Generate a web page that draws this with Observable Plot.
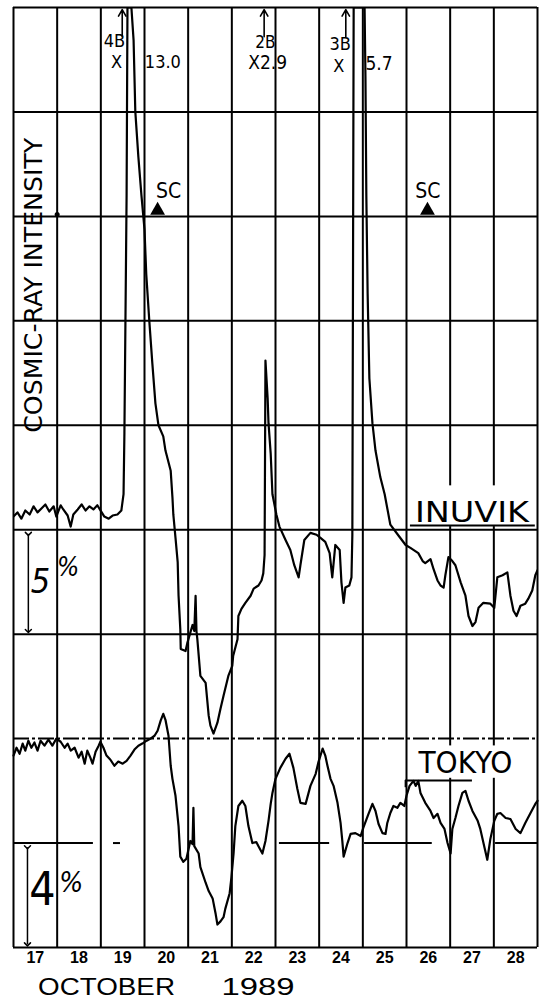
<!DOCTYPE html>
<html><head><meta charset="utf-8">
<script src="https://cdn.jsdelivr.net/npm/d3@7"></script>
<script src="https://cdn.jsdelivr.net/npm/@observablehq/plot@0.6"></script>
<style>body{margin:0;background:#fff}svg{display:block}</style>
</head><body><div id="chart"></div>
<script>
// Day columns (October 1989); each column spans one day
const days = [17, 18, 19, 20, 21, 22, 23, 24, 25, 26, 27, 28];
const dayLines = [17, 18, 19, 20, 21, 22, 23, 24, 25, 26, 27, 28, 29];
// Horizontal grid: one interval = 5 % for Inuvik, 4 % for Tokyo
const gridSolid = [0, 3, 4, 5, 6, 7, 8, 9];
const gridDashed = [2];
const tokyoRefSegments = [[17.0, 18.83], [19.29, 19.45], [23.09, 24.24], [25.04, 26.59], [28.04, 29.0]];

// Inuvik neutron monitor: [day, % relative to reference line]
const inuvik = [
[17.00,0.63],[17.09,0.83],[17.18,0.53],[17.27,0.92],[17.37,0.73],[17.46,1.12],[17.55,0.83],[17.64,1.02],
[17.73,1.21],[17.82,0.87],[17.92,1.12],[17.98,0.63],[18.08,1.17],[18.14,0.97],[18.24,0.68],[18.31,0.15],
[18.37,0.73],[18.47,0.97],[18.56,1.21],[18.65,0.92],[18.74,1.12],[18.83,0.97],[18.92,1.17],[19.02,0.83],
[19.08,0.63],[19.18,0.53],[19.27,0.68],[19.38,0.73],[19.47,0.92],[19.52,1.70],[19.54,4.63],[19.59,16.01],
[19.61,25.0],[19.70,25.0],[19.75,23.44],[19.79,20.0],[19.86,17.84],[19.93,16.01],[20.00,14.38],[20.04,12.24],
[20.11,10.0],[20.18,7.95],[20.25,6.05],[20.32,5.0],[20.43,4.47],[20.48,3.79],[20.60,2.82],[20.64,1.55],
[20.66,0.73],[20.71,-0.39],[20.76,-1.55],[20.78,-3.16],[20.82,-4.76],[20.83,-5.71],[20.94,-5.81],[20.98,-5.43],
[21.10,-4.56],[21.14,-4.85],[21.17,-3.16],[21.19,-4.85],[21.21,-5.24],[21.28,-7.0],[21.40,-7.33],[21.47,-8.90],
[21.51,-9.38],[21.58,-9.76],[21.67,-9.24],[21.74,-8.57],[21.81,-7.95],[21.92,-7.0],[22.01,-6.52],[22.03,-6.05],
[22.13,-5.24],[22.15,-4.13],[22.22,-3.79],[22.31,-3.50],[22.43,-3.16],[22.50,-2.82],[22.61,-2.67],[22.68,-2.43],
[22.72,-2.09],[22.75,-1.21],[22.77,8.10],[22.82,6.29],[22.84,5.10],[22.89,3.64],[22.93,1.70],[23.02,0.73],
[23.09,0.15],[23.23,-0.49],[23.34,-0.97],[23.43,-1.70],[23.53,-2.28],[23.57,-1.70],[23.66,-0.49],[23.80,-0.15],
[23.94,-0.24],[24.03,-0.39],[24.14,-0.58],[24.24,-1.12],[24.30,-2.28],[24.37,-0.73],[24.47,-0.97],[24.51,-2.52],
[24.56,-3.50],[24.60,-2.77],[24.69,-2.67],[24.74,-2.28],[24.76,-0.24],[24.79,25.0],[25.04,25.0],[25.06,21.70],
[25.08,16.01],[25.11,11.29],[25.15,7.24],[25.22,5.10],[25.29,3.79],[25.40,2.52],[25.50,1.70],[25.63,0.24],
[25.82,-0.29],[25.98,-0.73],[26.09,-0.87],[26.27,-1.12],[26.37,-1.50],[26.43,-1.60],[26.55,-1.41],[26.62,-1.89],
[26.71,-2.43],[26.78,-2.67],[26.85,-2.77],[26.89,-2.18],[26.96,-1.31],[27.05,-1.50],[27.12,-1.70],[27.24,-2.52],
[27.35,-3.16],[27.42,-4.13],[27.51,-4.61],[27.58,-4.42],[27.65,-3.74],[27.76,-3.50],[27.92,-3.54],[28.01,-3.74],
[28.08,-2.28],[28.20,-2.18],[28.31,-2.04],[28.38,-3.16],[28.45,-3.88],[28.52,-4.13],[28.61,-3.64],[28.72,-3.54],
[28.79,-3.30],[28.88,-2.91],[28.95,-2.18],[29.00,-1.94]
];

// Tokyo neutron monitor: [day, % relative to reference line]
const tokyo = [
[17.00,3.35],[17.07,3.65],[17.14,3.42],[17.21,3.81],[17.27,3.54],[17.34,3.92],[17.41,3.65],[17.48,3.85],
[17.55,3.54],[17.62,3.92],[17.71,3.73],[17.80,3.96],[17.89,3.73],[17.98,4.00],[18.08,3.88],[18.17,3.65],
[18.24,3.81],[18.31,3.54],[18.40,3.65],[18.49,3.27],[18.56,3.50],[18.63,3.04],[18.69,3.54],[18.76,3.27],
[18.81,3.04],[18.88,3.50],[18.95,3.73],[18.99,3.88],[19.06,3.65],[19.13,3.35],[19.22,3.19],[19.31,2.96],
[19.40,3.12],[19.50,3.04],[19.59,3.15],[19.68,3.35],[19.77,3.58],[19.86,3.73],[19.95,3.81],[20.05,3.92],
[20.14,4.00],[20.23,4.11],[20.30,4.30],[20.37,4.69],[20.43,4.95],[20.48,4.72],[20.55,4.11],[20.60,2.96],
[20.64,2.46],[20.71,1.81],[20.78,0.65],[20.82,-0.52],[20.89,-0.72],[20.96,-0.60],[21.05,0.08],[21.10,-0.04],
[21.12,1.35],[21.14,-0.12],[21.24,-0.40],[21.28,-0.92],[21.40,-1.52],[21.47,-1.84],[21.56,-2.12],[21.63,-2.72],
[21.67,-3.12],[21.74,-3.00],[21.81,-2.84],[21.85,-2.52],[21.95,-1.92],[21.99,-1.32],[22.04,-0.40],[22.08,0.65],
[22.15,1.42],[22.24,1.62],[22.31,1.42],[22.38,0.65],[22.47,0.00],[22.56,0.04],[22.61,-0.12],[22.70,-0.40],
[22.77,0.08],[22.84,0.85],[22.89,1.50],[22.93,1.92],[23.00,2.46],[23.11,2.88],[23.23,3.23],[23.32,3.42],
[23.41,2.88],[23.50,2.08],[23.57,1.54],[23.69,1.50],[23.80,2.19],[23.92,2.65],[23.98,3.08],[24.08,3.62],
[24.14,3.35],[24.19,2.96],[24.26,2.46],[24.33,2.19],[24.42,1.54],[24.49,0.77],[24.53,0.08],[24.56,-0.52],
[24.65,0.00],[24.72,0.35],[24.83,0.38],[24.95,0.27],[25.01,0.58],[25.13,1.12],[25.22,1.50],[25.29,1.23],
[25.36,0.73],[25.45,0.38],[25.52,0.35],[25.56,0.77],[25.63,1.15],[25.70,1.42],[25.79,1.35],[25.86,1.54],
[25.95,1.42],[26.00,1.81],[26.07,2.19],[26.16,2.38],[26.21,2.19],[26.27,2.38],[26.32,1.92],[26.43,1.54],
[26.55,1.23],[26.62,0.96],[26.71,1.12],[26.78,0.77],[26.87,0.54],[26.94,0.00],[27.01,-0.40],[27.05,0.54],
[27.12,0.96],[27.19,1.42],[27.28,1.92],[27.35,2.00],[27.42,1.62],[27.51,1.23],[27.63,0.85],[27.69,0.54],
[27.79,-0.20],[27.85,-0.64],[27.92,0.15],[28.01,0.85],[28.08,1.12],[28.15,1.15],[28.27,0.96],[28.38,0.92],
[28.50,0.54],[28.61,0.38],[28.72,0.77],[28.84,1.15],[28.95,1.50],[29.00,1.62]
];

// Flare annotations (class, peak value) and sudden commencements
const flareNotes = [
  {text: "4B", day: 19.31, g: 8.68, size: 18},
  {text: "X", day: 19.36, g: 8.48, size: 18},
  {text: "13.0", day: 20.42, g: 8.48, size: 18},
  {text: "2B", day: 22.77, g: 8.66, size: 17},
  {text: "X2.9", day: 22.82, g: 8.47, size: 19},
  {text: "3B", day: 24.48, g: 8.65, size: 18},
  {text: "X", day: 24.45, g: 8.44, size: 18},
  {text: "5.7", day: 25.37, g: 8.46, size: 19}
];
const flareArrows = [{day: 19.49}, {day: 22.74}, {day: 24.61}];
const scNotes = [{text: "SC", day: 20.55, g: 7.24}, {text: "SC", day: 26.49, g: 7.24}];
const scDays = [20.30, 26.48];

const yIn = d => 4 + d[1] / 5;   // Inuvik: 5 % per grid interval
const yTo = d => 1 + d[1] / 4;   // Tokyo: 4 % per grid interval
const hand = "'Liberation Sans Narrow', 'DejaVu Sans Condensed', 'Liberation Sans', sans-serif";

const plot = Plot.plot({
  width: 544, height: 1006,
  marginLeft: 13, marginRight: 7, marginTop: 7, marginBottom: 59,
  x: {domain: [17, 29], axis: null},
  y: {domain: [0, 9], axis: null},
  style: {background: "white", fontFamily: "'Liberation Sans', Arial, sans-serif"},
  marks: [
    Plot.ruleX(dayLines, {stroke: "black", strokeWidth: 2}),
    Plot.ruleY(gridSolid, {stroke: "black", strokeWidth: 2}),
    Plot.ruleY(gridDashed, {stroke: "black", strokeWidth: 2, strokeDasharray: "16,3,3,3"}),
    Plot.ruleY(tokyoRefSegments, {y: () => 1, x1: d => d[0], x2: d => d[1], stroke: "black", strokeWidth: 2}),
    // label backgrounds (grid lines interrupted by lettering)
    Plot.rect([{x1: 26.14, x2: 28.93, y1: 4.03, y2: 4.42}], {x1: "x1", x2: "x2", y1: "y1", y2: "y2", fill: "white"}),
    Plot.rect([{x1: 26.16, x2: 28.55, y1: 1.62, y2: 1.93}], {x1: "x1", x2: "x2", y1: "y1", y2: "y2", fill: "white"}),
    // traces
    Plot.line(inuvik, {x: d => d[0], y: yIn, stroke: "black", strokeWidth: 2.2, strokeLinejoin: "round", clip: true}),
    Plot.line(tokyo, {x: d => d[0], y: yTo, stroke: "black", strokeWidth: 2.2, strokeLinejoin: "round"}),
    // station labels
    Plot.text(["INUVIK"], {x: () => 27.50, y: () => 4.16, fontSize: 29, fontFamily: hand}),
    Plot.ruleY([{y: 4.04, x1: 26.09, x2: 28.95}], {y: "y", x1: "x1", x2: "x2", stroke: "black", strokeWidth: 2}),
    Plot.text(["TOKYO"], {x: () => 27.35, y: () => 1.76, fontSize: 30, fontFamily: hand}),
    Plot.ruleY([{y: 1.60, x1: 25.98, x2: 27.51}], {y: "y", x1: "x1", x2: "x2", stroke: "black", strokeWidth: 2}),
    Plot.ruleX([{x: 25.98, y1: 1.53, y2: 1.60}], {x: "x", y1: "y1", y2: "y2", stroke: "black", strokeWidth: 2}),
    // axis title
    Plot.text(["COSMIC-RAY INTENSITY"], {x: () => 17.47, y: () => 6.34, rotate: -90, fontSize: 25, fontFamily: hand}),
    // scale bars
    Plot.link([{x: 17.34, y1: 3.96, y2: 3.03}], {x1: "x", x2: "x", y1: "y1", y2: "y2", stroke: "black", strokeWidth: 1.5, markerStart: "arrow", markerEnd: "arrow"}),
    Plot.text(["5"], {x: () => 17.62, y: () => 3.50, fontSize: 34, fontStyle: "italic", fontFamily: hand}),
    Plot.text(["%"], {x: () => 18.25, y: () => 3.64, fontSize: 26, fontStyle: "italic", fontFamily: hand}),
    Plot.link([{x: 17.32, y1: 0.96, y2: 0.03}], {x1: "x", x2: "x", y1: "y1", y2: "y2", stroke: "black", strokeWidth: 1.5, markerStart: "arrow", markerEnd: "arrow"}),
    Plot.text(["4"], {x: () => 17.66, y: () => 0.55, fontSize: 46, fontFamily: hand}),
    Plot.text(["%"], {x: () => 18.32, y: () => 0.62, fontSize: 28, fontStyle: "italic", fontFamily: hand}),
    // flare annotations
    Plot.arrow(flareArrows, {x1: "day", x2: "day", y1: () => 8.72, y2: () => 8.98, stroke: "black", strokeWidth: 1.6, headLength: 7}),
    Plot.text(flareNotes, {x: "day", y: "g", text: "text", fontSize: "size", fontFamily: hand}),
    Plot.text(scNotes, {x: "day", y: "g", text: "text", fontSize: 21, fontFamily: hand}),
    Plot.dot(scDays, {x: d => d, y: () => 7, dy: -6, symbol: "triangle", r: 5.5, fill: "black", stroke: "none"}),
    Plot.dot([18.0], {x: d => d, y: () => 7.0, dy: -2, r: 2.5, fill: "black", stroke: "none"}),
    // day labels and month
    Plot.text(days, {x: d => d + 0.5, frameAnchor: "bottom", dy: 15, fontSize: 16, fontWeight: "bold", text: d => String(d)}),
    Plot.text(["OCTOBER"], {x: () => 19.13, frameAnchor: "bottom", dy: 47, fontSize: 23}),
    Plot.text(["1989"], {x: () => 22.60, frameAnchor: "bottom", dy: 47, fontSize: 23})
  ]
});

const svg = d3.select(plot);
const fit = {"COSMIC-RAY INTENSITY": 295, "INUVIK": 114, "TOKYO": 94, "OCTOBER": 137, "1989": 73};
svg.selectAll("text").each(function() {
  const t = this.textContent;
  if (fit[t]) d3.select(this).attr("textLength", fit[t]).attr("lengthAdjust", "spacingAndGlyphs");
});
document.getElementById("chart").appendChild(plot);
</script>
</body></html>
